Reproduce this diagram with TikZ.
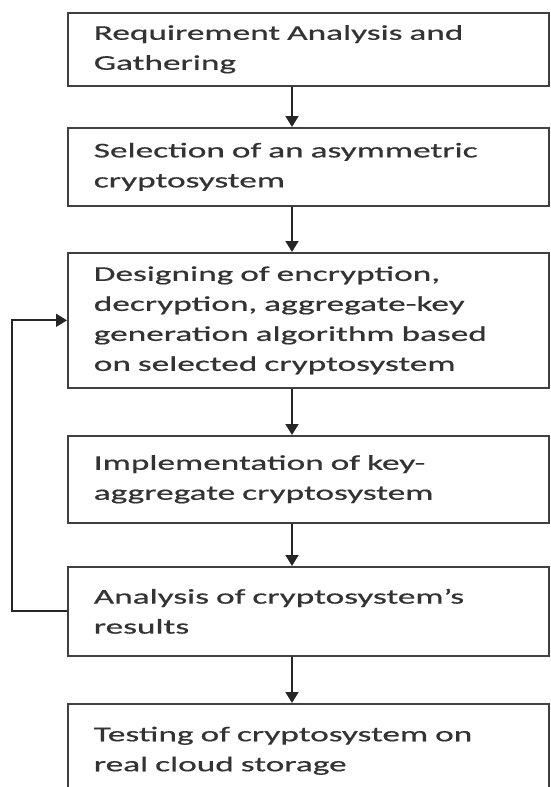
\documentclass[tikz,border=0pt]{standalone}
\usepackage{fontspec}
\setmainfont[FakeStretch=1.68,WordSpace=0.6,FakeBold=0.6]{Carlito}
\usetikzlibrary{arrows.meta}
\begin{document}
\begin{tikzpicture}[x=1pt,y=-1pt,
  stepbox/.style={draw=black!75,line width=1.6pt,fill=white,anchor=north west,
    text width=429pt,inner xsep=26pt,inner ysep=0pt,align=left,
    font=\fontsize{21pt}{30pt}\selectfont,text=black!80},
  flow/.style={draw=black!85,line width=1.8pt,-{Triangle[width=13pt,length=11pt]}}]
\useasboundingbox[fill=white] (0,0) rectangle (550,787);
\coordinate (ax) at (292,0);
\node[stepbox,minimum height=73pt] (b1) at (67,12) {Requirement Analysis and\\Gathering};
\node[stepbox,minimum height=78pt] (b2) at (67,127) {Selection of an asymmetric\\cryptosystem};
\node[stepbox,minimum height=135pt] (b3) at (67,252) {Designing of encryption,\\decryption, aggregate-key\\generation algorithm based\\on selected cryptosystem};
\node[stepbox,minimum height=87pt] (b4) at (67,435) {Implementation of key-\\aggregate cryptosystem};
\node[stepbox,minimum height=89pt] (b5) at (67,566) {Analysis of cryptosystem's\\results};
\node[stepbox,minimum height=94pt] (b6) at (67,703) {Testing of cryptosystem on\\real cloud storage};
\draw[flow] (b1.south -| ax) -- (b2.north -| ax);
\draw[flow] (b2.south -| ax) -- (b3.north -| ax);
\draw[flow] (b3.south -| ax) -- (b4.north -| ax);
\draw[flow] (b4.south -| ax) -- (b5.north -| ax);
\draw[flow] (b5.south -| ax) -- (b6.north -| ax);
\draw[flow] (b5.west) -- ++(-55,0) |- (b3.west);
\end{tikzpicture}
\end{document}
